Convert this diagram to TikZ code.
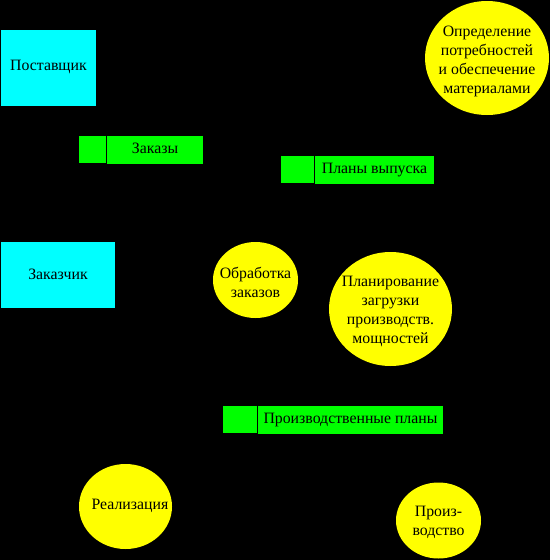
\documentclass[tikz,border=0pt]{standalone}
\usepackage{fontspec}
\setmainfont{Liberation Serif}
\usetikzlibrary{shapes.geometric}
\definecolor{cyanbox}{RGB}{0,255,255}
\definecolor{greenbox}{RGB}{0,255,0}
\definecolor{yellowell}{RGB}{255,255,0}
\begin{document}
\begin{tikzpicture}[x=1pt,y=-1pt,
  every node/.style={inner sep=0pt,outer sep=0pt,font=\fontsize{15.8}{19}\selectfont,text=black,align=center},
  entity/.style={rectangle,fill=cyanbox,draw=none},
  store/.style={rectangle,fill=greenbox,draw=none},
  proc/.style={ellipse,fill=yellowell,draw=none}]
\fill[black] (0,0) rectangle (550,560);
\useasboundingbox (0,0) rectangle (550,560);
% entities
\node[entity,minimum width=95pt,minimum height=76pt] (supplier) at (48.5,68) {\raisebox{6pt}{Поставщик}};
\node[entity,minimum width=114pt,minimum height=66pt] (customer) at (58,275) {\raisebox{2pt}{Заказчик}};
% stores
\node[store,minimum width=27pt,minimum height=27pt] (ordersid) at (92.5,149.5) {};
\node[store,minimum width=96pt,minimum height=28pt] (orders) at (155,150) {\raisebox{3pt}{Заказы}};
\node[store,minimum width=33pt,minimum height=27pt] (plansid) at (297.5,169.5) {};
\node[store,minimum width=119pt,minimum height=28pt] (plans) at (374.5,170) {Планы выпуска};
\node[store,minimum width=34pt,minimum height=27pt] (prodid) at (240,419.5) {};
\node[store,minimum width=185pt,minimum height=28pt] (prodplans) at (350.5,420) {Производственные планы};
% processes
\node[proc,minimum width=124pt,minimum height=114pt] (needs) at (487,58) {};
\node (needstext) at (487,61) {Определение\\потребностей\\и обеспечение\\материалами};
\node[proc,minimum width=85pt,minimum height=76pt] (orderproc) at (255.5,280) {};
\node (orderproctext) at (255.5,282) {Обработка\\заказов};
\node[proc,minimum width=123pt,minimum height=114pt] (capacity) at (390.5,309) {};
\node (capacitytext) at (390.5,311) {Планирование\\загрузки\\производств.\\мощностей};
\node[proc,minimum width=93pt,minimum height=85pt] (sales) at (125.5,506.5) {};
\node (salestext) at (130,506) {Реализация};
\node[proc,minimum width=85pt,minimum height=76pt] (production) at (438.5,520.5) {};
\node (productiontext) at (438.5,522) {Произ-\\водство};
\end{tikzpicture}
\end{document}
